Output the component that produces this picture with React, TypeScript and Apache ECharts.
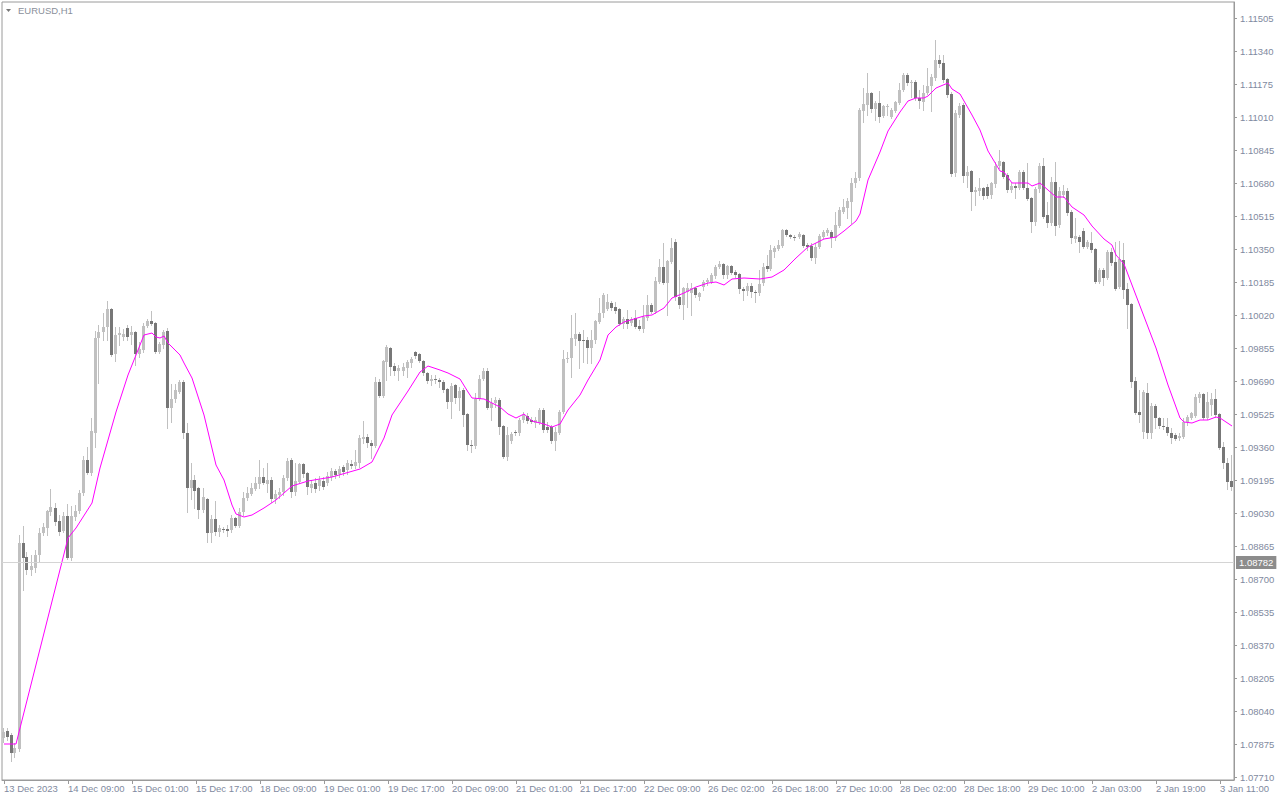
import React, { useEffect, useRef } from "react";
import * as echarts from "echarts";

// OHLC candles, EURUSD H1 — [open, close, low, high]
const candles: number[][] = [
  [1.07905,1.07935,1.07885,1.07955],[1.07940,1.07910,1.07895,1.07955],[1.07920,1.07830,1.07790,1.07930],[1.07830,1.07855,1.07810,1.07880],
  [1.07850,1.08880,1.07840,1.08920],[1.08880,1.08805,1.08645,1.08965],[1.08810,1.08745,1.08725,1.08835],[1.08745,1.08765,1.08720,1.08820],
  [1.08755,1.08820,1.08735,1.08845],[1.08820,1.08930,1.08785,1.08955],[1.08930,1.08960,1.08920,1.08980],[1.08955,1.09040,1.08920,1.09045],
  [1.09035,1.09060,1.09020,1.09150],[1.09055,1.08985,1.08970,1.09080],[1.08990,1.08935,1.08920,1.09020],[1.08940,1.09015,1.08935,1.09035],
  [1.09015,1.08805,1.08800,1.09075],[1.08805,1.09015,1.08795,1.09065],[1.09010,1.09040,1.08995,1.09070],[1.09040,1.09130,1.09030,1.09145],
  [1.09130,1.09295,1.09120,1.09315],[1.09295,1.09230,1.09225,1.09360],[1.09230,1.09440,1.09220,1.09505],[1.09430,1.09905,1.09360,1.09940],
  [1.09905,1.09935,1.09680,1.09970],[1.09935,1.09960,1.09895,1.10030],[1.09960,1.10050,1.09895,1.10090],[1.10050,1.09820,1.09815,1.10055],
  [1.09825,1.09920,1.09790,1.09960],[1.09920,1.09930,1.09870,1.09960],[1.09910,1.09925,1.09895,1.09950],[1.09955,1.09910,1.09895,1.09970],
  [1.09920,1.09935,1.09875,1.09965],[1.09935,1.09825,1.09770,1.09940],[1.09825,1.09850,1.09810,1.09885],[1.09845,1.09965,1.09835,1.09980],
  [1.09965,1.09990,1.09960,1.10000],[1.09990,1.09975,1.09970,1.10040],[1.09980,1.09835,1.09830,1.09985],[1.09835,1.09875,1.09830,1.09885],
  [1.09870,1.09935,1.09855,1.09945],[1.09940,1.09555,1.09455,1.09955],[1.09555,1.09600,1.09485,1.09675],[1.09600,1.09645,1.09585,1.09675],
  [1.09635,1.09685,1.09630,1.09695],[1.09685,1.09430,1.09405,1.09695],[1.09430,1.09155,1.09035,1.09480],[1.09155,1.09195,1.09100,1.09280],
  [1.09195,1.09140,1.09055,1.09220],[1.09155,1.09045,1.09005,1.09160],[1.09045,1.09110,1.09035,1.09155],[1.09100,1.08930,1.08885,1.09105],
  [1.08930,1.09000,1.08885,1.09020],[1.09000,1.08935,1.08920,1.09090],[1.08935,1.08955,1.08915,1.08970],[1.08950,1.08945,1.08935,1.08960],
  [1.08950,1.08940,1.08915,1.08970],[1.08945,1.09005,1.08935,1.09020],[1.09005,1.08965,1.08960,1.09010],[1.08965,1.09035,1.08960,1.09055],
  [1.09035,1.09105,1.09020,1.09135],[1.09105,1.09130,1.09095,1.09160],[1.09125,1.09155,1.09120,1.09180],[1.09150,1.09180,1.09145,1.09210],
  [1.09175,1.09210,1.09155,1.09295],[1.09210,1.09180,1.09175,1.09255],[1.09175,1.09195,1.09135,1.09280],[1.09195,1.09100,1.09085,1.09210],
  [1.09100,1.09125,1.09080,1.09145],[1.09120,1.09135,1.09105,1.09155],[1.09135,1.09205,1.09120,1.09220],[1.09205,1.09290,1.09195,1.09305],
  [1.09295,1.09135,1.09110,1.09305],[1.09135,1.09190,1.09120,1.09280],[1.09185,1.09275,1.09180,1.09280],[1.09275,1.09225,1.09210,1.09280],
  [1.09230,1.09160,1.09125,1.09235],[1.09155,1.09175,1.09135,1.09195],[1.09180,1.09150,1.09135,1.09205],[1.09165,1.09195,1.09145,1.09215],
  [1.09190,1.09160,1.09150,1.09210],[1.09180,1.09215,1.09170,1.09235],[1.09210,1.09240,1.09195,1.09255],[1.09240,1.09220,1.09205,1.09250],
  [1.09225,1.09250,1.09210,1.09265],[1.09260,1.09235,1.09220,1.09270],[1.09245,1.09280,1.09225,1.09295],[1.09275,1.09265,1.09255,1.09295],
  [1.09265,1.09285,1.09255,1.09345],[1.09280,1.09405,1.09260,1.09420],[1.09400,1.09410,1.09380,1.09490],[1.09410,1.09380,1.09360,1.09425],
  [1.09380,1.09365,1.09305,1.09395],[1.09365,1.09685,1.09360,1.09710],[1.09685,1.09615,1.09610,1.09700],[1.09615,1.09790,1.09610,1.09795],
  [1.09785,1.09860,1.09695,1.09870],[1.09855,1.09760,1.09720,1.09860],[1.09765,1.09740,1.09720,1.09780],[1.09740,1.09755,1.09695,1.09770],
  [1.09740,1.09760,1.09720,1.09780],[1.09755,1.09785,1.09710,1.09795],[1.09780,1.09800,1.09760,1.09810],[1.09835,1.09815,1.09805,1.09840],
  [1.09825,1.09790,1.09785,1.09830],[1.09790,1.09730,1.09720,1.09795],[1.09730,1.09690,1.09680,1.09735],[1.09690,1.09700,1.09670,1.09720],
  [1.09700,1.09695,1.09680,1.09720],[1.09695,1.09685,1.09660,1.09705],[1.09685,1.09645,1.09635,1.09695],[1.09650,1.09585,1.09555,1.09655],
  [1.09585,1.09665,1.09505,1.09680],[1.09670,1.09605,1.09580,1.09675],[1.09605,1.09640,1.09545,1.09660],[1.09645,1.09520,1.09465,1.09655],
  [1.09525,1.09370,1.09345,1.09530],[1.09370,1.09365,1.09335,1.09395],[1.09365,1.09600,1.09355,1.09630],[1.09600,1.09700,1.09595,1.09720],
  [1.09700,1.09740,1.09695,1.09755],[1.09740,1.09555,1.09550,1.09755],[1.09555,1.09580,1.09495,1.09605],[1.09580,1.09595,1.09560,1.09610],
  [1.09595,1.09460,1.09425,1.09605],[1.09465,1.09310,1.09305,1.09470],[1.09310,1.09420,1.09295,1.09460],[1.09390,1.09425,1.09380,1.09435],
  [1.09435,1.09430,1.09420,1.09445],[1.09430,1.09495,1.09420,1.09505],[1.09495,1.09520,1.09485,1.09535],[1.09515,1.09490,1.09480,1.09530],
  [1.09495,1.09485,1.09480,1.09510],[1.09480,1.09495,1.09460,1.09510],[1.09480,1.09545,1.09475,1.09555],[1.09545,1.09445,1.09435,1.09555],
  [1.09460,1.09445,1.09435,1.09485],[1.09460,1.09390,1.09380,1.09470],[1.09390,1.09435,1.09345,1.09460],[1.09430,1.09535,1.09425,1.09545],
  [1.09535,1.09800,1.09530,1.09845],[1.09800,1.09805,1.09785,1.09835],[1.09805,1.09905,1.09710,1.10020],[1.09900,1.09925,1.09870,1.10030],
  [1.09925,1.09890,1.09755,1.09935],[1.09895,1.09890,1.09785,1.09945],[1.09895,1.09855,1.09780,1.09910],[1.09855,1.09895,1.09780,1.09945],
  [1.09895,1.09990,1.09880,1.09995],[1.09985,1.10030,1.09980,1.10105],[1.10030,1.10120,1.10010,1.10130],[1.10050,1.10085,1.10045,1.10125],
  [1.10080,1.10055,1.10045,1.10090],[1.10060,1.10040,1.10030,1.10085],[1.10050,1.09975,1.09970,1.10055],[1.09975,1.10000,1.09955,1.10010],
  [1.10000,1.09975,1.09955,1.10045],[1.09980,1.10000,1.09970,1.10010],[1.10005,1.09960,1.09955,1.10045],[1.09965,1.09950,1.09945,1.09995],
  [1.09950,1.10010,1.09935,1.10070],[1.10005,1.10070,1.09995,1.10120],[1.10070,1.10035,1.10030,1.10080],[1.10035,1.10190,1.10030,1.10210],
  [1.10185,1.10260,1.10180,1.10300],[1.10260,1.10180,1.10175,1.10380],[1.10180,1.10290,1.10020,1.10295],[1.10285,1.10355,1.10280,1.10405],
  [1.10385,1.10110,1.10095,1.10400],[1.10110,1.10070,1.10055,1.10245],[1.10070,1.10155,1.10000,1.10160],[1.10135,1.10155,1.10060,1.10180],
  [1.10130,1.10155,1.10020,1.10180],[1.10155,1.10120,1.10110,1.10160],[1.10110,1.10130,1.10095,1.10135],[1.10160,1.10185,1.10145,1.10195],
  [1.10185,1.10195,1.10170,1.10205],[1.10185,1.10220,1.10180,1.10230],[1.10215,1.10260,1.10205,1.10270],[1.10260,1.10275,1.10255,1.10290],
  [1.10275,1.10220,1.10205,1.10280],[1.10220,1.10265,1.10205,1.10270],[1.10265,1.10230,1.10225,1.10270],[1.10235,1.10220,1.10210,1.10245],
  [1.10225,1.10150,1.10130,1.10230],[1.10150,1.10140,1.10095,1.10160],[1.10140,1.10165,1.10120,1.10180],[1.10165,1.10135,1.10110,1.10180],
  [1.10135,1.10130,1.10085,1.10145],[1.10130,1.10175,1.10120,1.10245],[1.10180,1.10260,1.10170,1.10280],[1.10265,1.10250,1.10240,1.10320],
  [1.10250,1.10345,1.10245,1.10370],[1.10335,1.10355,1.10310,1.10365],[1.10350,1.10370,1.10345,1.10395],[1.10365,1.10445,1.10360,1.10450],
  [1.10445,1.10420,1.10415,1.10450],[1.10420,1.10410,1.10405,1.10425],[1.10410,1.10405,1.10395,1.10420],[1.10410,1.10425,1.10405,1.10435],
  [1.10420,1.10365,1.10360,1.10425],[1.10370,1.10360,1.10345,1.10380],[1.10365,1.10305,1.10295,1.10380],[1.10305,1.10360,1.10280,1.10380],
  [1.10360,1.10415,1.10355,1.10425],[1.10410,1.10435,1.10405,1.10445],[1.10430,1.10445,1.10420,1.10455],[1.10435,1.10405,1.10360,1.10445],
  [1.10405,1.10470,1.10395,1.10535],[1.10465,1.10545,1.10460,1.10560],[1.10535,1.10560,1.10530,1.10600],[1.10555,1.10590,1.10505,1.10605],
  [1.10585,1.10680,1.10480,1.10705],[1.10680,1.10705,1.10660,1.10735],[1.10705,1.11045,1.10695,1.11055],[1.11040,1.11075,1.10985,1.11155],
  [1.11070,1.11130,1.11020,1.11230],[1.11130,1.11050,1.11035,1.11135],[1.11050,1.11080,1.10995,1.11090],[1.11080,1.11010,1.10985,1.11140],
  [1.11015,1.11065,1.11010,1.11070],[1.11060,1.11065,1.11020,1.11075],[1.11010,1.11045,1.11005,1.11055],[1.11040,1.11085,1.11035,1.11090],
  [1.11080,1.11145,1.11075,1.11180],[1.11145,1.11220,1.11140,1.11230],[1.11220,1.11180,1.11170,1.11230],[1.11180,1.11185,1.11110,1.11195],
  [1.11185,1.11105,1.11095,1.11195],[1.11105,1.11090,1.11055,1.11145],[1.11085,1.11130,1.11045,1.11170],[1.11130,1.11165,1.11125,1.11255],
  [1.11165,1.11210,1.11040,1.11225],[1.11205,1.11295,1.11195,1.11395],[1.11295,1.11275,1.11260,1.11320],[1.11280,1.11195,1.11185,1.11320],
  [1.11200,1.11120,1.11110,1.11205],[1.11125,1.10725,1.10715,1.11135],[1.10730,1.11030,1.10715,1.11045],[1.11020,1.11065,1.11010,1.11080],
  [1.11070,1.10715,1.10685,1.11080],[1.10715,1.10735,1.10660,1.10765],[1.10740,1.10635,1.10545,1.10745],[1.10635,1.10645,1.10570,1.10660],
  [1.10640,1.10655,1.10620,1.10705],[1.10655,1.10615,1.10600,1.10660],[1.10660,1.10615,1.10605,1.10675],[1.10620,1.10680,1.10605,1.10685],
  [1.10675,1.10765,1.10660,1.10785],[1.10765,1.10790,1.10755,1.10845],[1.10785,1.10710,1.10705,1.10790],[1.10720,1.10645,1.10635,1.10730],
  [1.10645,1.10665,1.10635,1.10680],[1.10665,1.10655,1.10605,1.10680],[1.10655,1.10735,1.10650,1.10745],[1.10735,1.10655,1.10650,1.10745],
  [1.10655,1.10600,1.10595,1.10780],[1.10605,1.10485,1.10435,1.10610],[1.10485,1.10650,1.10470,1.10660],[1.10650,1.10765,1.10635,1.10780],
  [1.10765,1.10510,1.10505,1.10805],[1.10520,1.10480,1.10460,1.10585],[1.10480,1.10685,1.10470,1.10710],[1.10685,1.10465,1.10420,1.10785],
  [1.10470,1.10640,1.10460,1.10660],[1.10620,1.10640,1.10610,1.10670],[1.10640,1.10530,1.10520,1.10655],[1.10535,1.10405,1.10380,1.10545],
  [1.10400,1.10415,1.10385,1.10505],[1.10410,1.10385,1.10335,1.10420],[1.10440,1.10360,1.10355,1.10455],[1.10360,1.10385,1.10355,1.10395],
  [1.10380,1.10345,1.10335,1.10435],[1.10350,1.10185,1.10180,1.10355],[1.10185,1.10245,1.10180,1.10255],[1.10245,1.10205,1.10170,1.10255],
  [1.10205,1.10335,1.10200,1.10345],[1.10335,1.10280,1.10270,1.10355],[1.10285,1.10150,1.10145,1.10385],[1.10160,1.10300,1.10155,1.10390],
  [1.10295,1.10145,1.10105,1.10380],[1.10150,1.10070,1.09955,1.10180],[1.10075,1.09685,1.09660,1.10080],[1.09690,1.09530,1.09525,1.09710],
  [1.09535,1.09520,1.09485,1.09645],[1.09435,1.09635,1.09405,1.09645],[1.09630,1.09430,1.09405,1.09680],[1.09430,1.09565,1.09405,1.09580],
  [1.09565,1.09505,1.09455,1.09575],[1.09505,1.09465,1.09455,1.09510],[1.09465,1.09460,1.09450,1.09505],[1.09460,1.09430,1.09420,1.09505],
  [1.09430,1.09405,1.09380,1.09455],[1.09420,1.09400,1.09395,1.09430],[1.09405,1.09415,1.09395,1.09430],[1.09410,1.09485,1.09405,1.09505],
  [1.09485,1.09510,1.09470,1.09520],[1.09505,1.09530,1.09500,1.09535],[1.09515,1.09610,1.09510,1.09625],[1.09605,1.09625,1.09585,1.09635],
  [1.09625,1.09505,1.09500,1.09630],[1.09505,1.09585,1.09500,1.09635],[1.09570,1.09600,1.09520,1.09630],[1.09600,1.09520,1.09510,1.09650],
  [1.09525,1.09355,1.09350,1.09530],[1.09360,1.09280,1.09255,1.09385],[1.09280,1.09185,1.09150,1.09305],[1.09190,1.09160,1.09145,1.09320],
];

// Moving average (magenta), read at bar indexes
const maIndex: number[] = [
  0,3,16,18,22,24,28,31,33,35,37,38,39,40,41,44,45,47,50,53,55,57,58,60,62,65,68,70,72,76,82,89,92,95,97,101,104,106,109,111,
  114,116,117,120,122,124,126,128,130,132,135,137,139,141,144,146,149,151,153,155,160,162,165,167,170,173,176,178,180,182,185,189,192,195,198,201,205,208,210,213,
  214,216,219,221,224,226,228,230,231,233,236,237,239,242,244,246,249,250,252,256,257,259,261,263,265,267,270,272,275,277,278,280,282,286,288,291,294,295,297,299,
  301,303,304,307,
];
const maValue: number[] = [
  1.07875,1.07875,1.08905,1.08955,1.09080,1.09255,1.09535,1.09720,1.09820,1.09920,1.09930,1.09910,1.09905,1.09915,1.09880,1.09820,1.09780,1.09705,1.09520,1.09270,
  1.09195,1.09070,1.09025,1.09010,1.09020,1.09055,1.09095,1.09130,1.09165,1.09190,1.09210,1.09250,1.09285,1.09405,1.09520,1.09640,1.09735,1.09765,1.09745,1.09730,
  1.09700,1.09635,1.09605,1.09600,1.09580,1.09560,1.09525,1.09505,1.09525,1.09490,1.09475,1.09460,1.09475,1.09545,1.09620,1.09695,1.09795,1.09920,1.09960,1.09985,
  1.10015,1.10020,1.10055,1.10105,1.10130,1.10160,1.10180,1.10185,1.10170,1.10200,1.10205,1.10200,1.10210,1.10245,1.10305,1.10360,1.10400,1.10410,1.10440,1.10490,
  1.10525,1.10695,1.10835,1.10940,1.11035,1.11090,1.11105,1.11105,1.11115,1.11155,1.11180,1.11150,1.11125,1.11020,1.10945,1.10840,1.10740,1.10735,1.10680,1.10680,
  1.10665,1.10680,1.10645,1.10610,1.10610,1.10560,1.10520,1.10465,1.10400,1.10370,1.10320,1.10275,1.10170,1.09960,1.09855,1.09670,1.09505,1.09485,1.09480,1.09495,
  1.09495,1.09510,1.09505,1.09465,
];

// Price axis ticks and time axis labels
const priceTicks: number[] = [
  1.07710,1.07875,1.08040,1.08205,1.08370,1.08535,1.08700,1.08865,1.09030,1.09195,1.09360,1.09525,
  1.09690,1.09855,1.10020,1.10185,1.10350,1.10515,1.10680,1.10845,1.11010,1.11175,1.11340,1.11505,
];
const timeLabels: string[] = [
  "13 Dec 2023","14 Dec 09:00","15 Dec 01:00","15 Dec 17:00","18 Dec 09:00","19 Dec 01:00","19 Dec 17:00",
  "20 Dec 09:00","21 Dec 01:00","21 Dec 17:00","22 Dec 09:00","26 Dec 02:00","26 Dec 18:00","27 Dec 10:00",
  "28 Dec 02:00","28 Dec 18:00","29 Dec 10:00","2 Jan 03:00","2 Jan 19:00","3 Jan 11:00",
];
const barsPerLabel = 16;
const currentPrice = 1.08782;
const symbolTitle = "EURUSD,H1";

const priceMin = 1.07695;
const priceMax = 1.11585;

const FONT = "Liberation Sans, Arial, sans-serif";
const TEXT = "#7f8aa0";
const AXIS = "#9a9a9a";

export default function App() {
  const ref = useRef<HTMLDivElement>(null);

  useEffect(() => {
    if (!ref.current) return;
    const chart = echarts.init(ref.current, null, { renderer: "svg" });
    const categories = candles.map((_, i) => String(i));
    const candleData = candles.map((c, i) => [i, c[0], c[1], c[2], c[3]]);
    const maData = maIndex.map((i, k) => [i, maValue[k]]);
    const showTick = (index: number) => index % barsPerLabel === 0;

    chart.setOption({
      animation: false,
      backgroundColor: "#ffffff",
      textStyle: { fontFamily: FONT },
      grid: {
        left: 2, top: 2, right: 46, bottom: 20,
        show: true, borderColor: AXIS, borderWidth: 1, backgroundColor: "#ffffff",
      },
      xAxis: {
        type: "category",
        data: categories,
        boundaryGap: true,
        axisLine: { show: true, lineStyle: { color: AXIS } },
        axisTick: { show: true, alignWithLabel: true, interval: showTick, length: 4, lineStyle: { color: AXIS } },
        axisLabel: {
          interval: showTick,
          formatter: (_v: string, idx: number) => timeLabels[Math.round(idx / barsPerLabel)] ?? "",
          align: "left",
          margin: 3,
          color: TEXT,
          fontSize: 9.5,
          fontFamily: FONT,
        },
        splitLine: { show: false },
      },
      yAxis: {
        type: "value",
        position: "right",
        min: priceMin,
        max: priceMax,
        axisLine: { show: true, lineStyle: { color: AXIS } },
        axisTick: { show: true, customValues: priceTicks, length: 3, lineStyle: { color: AXIS } },
        axisLabel: {
          customValues: priceTicks,
          formatter: (v: number) => v.toFixed(5),
          margin: 6,
          color: TEXT,
          fontSize: 9.5,
          fontFamily: FONT,
        },
        splitLine: { show: false },
      },
      graphic: [
        { type: "polygon", shape: { points: [[6, 9], [11, 9], [8.5, 12]] }, style: { fill: "#777" } },
        { type: "text", x: 18, y: 5, style: { text: symbolTitle, fill: "#8a8f9a", font: `9.5px ${FONT}` } },
      ],
      series: [
        {
          type: "line",
          name: "Bid",
          data: [],
          z: 1,
          symbol: "none",
          markLine: {
            silent: true,
            symbol: "none",
            precision: 5,
            data: [{ yAxis: currentPrice }],
            lineStyle: { color: "#d4d4d4", width: 1, type: "solid" },
            label: {
              show: true,
              position: "end",
              distance: 2,
              formatter: currentPrice.toFixed(5),
              backgroundColor: "#8c8c8c",
              color: "#ffffff",
              padding: [2, 3, 1, 3],
              fontSize: 9.5,
              fontFamily: FONT,
            },
          },
        },
        {
          type: "custom",
          name: "EURUSD",
          data: candleData,
          encode: { x: 0, y: [1, 2, 3, 4] },
          z: 2,
          renderItem: (_p: any, api: any) => {
            const i = api.value(0);
            const o = api.value(1);
            const c = api.value(2);
            const l = api.value(3);
            const h = api.value(4);
            const pO = api.coord([i, o]);
            const pC = api.coord([i, c]);
            const pL = api.coord([i, l]);
            const pH = api.coord([i, h]);
            const col = Math.floor(pO[0]) - 1;
            const top = Math.round(Math.min(pO[1], pC[1]));
            const bot = Math.round(Math.max(pO[1], pC[1]));
            const bull = c >= o;
            return {
              type: "group",
              children: [
                {
                  type: "line",
                  shape: { x1: col + 0.5, y1: Math.round(pH[1]), x2: col + 0.5, y2: Math.round(pL[1]) + 1 },
                  style: { stroke: "#c0c0c0", lineWidth: 1 },
                },
                {
                  type: "rect",
                  shape: { x: col - 1, y: top, width: 3, height: Math.max(1, bot - top) },
                  style: { fill: bull ? "#c0c0c0" : "#777777" },
                },
              ],
            };
          },
        },
        {
          type: "line",
          name: "MA",
          data: maData,
          showSymbol: false,
          symbol: "none",
          z: 3,
          lineStyle: { color: "#ff00ff", width: 1 },
        },
      ],
    });
    return () => chart.dispose();
  }, []);

  return (
    <div
      ref={ref}
      style={{ position: "fixed", left: 0, top: 0, width: 1280, height: 800, background: "#fff" }}
    />
  );
}
